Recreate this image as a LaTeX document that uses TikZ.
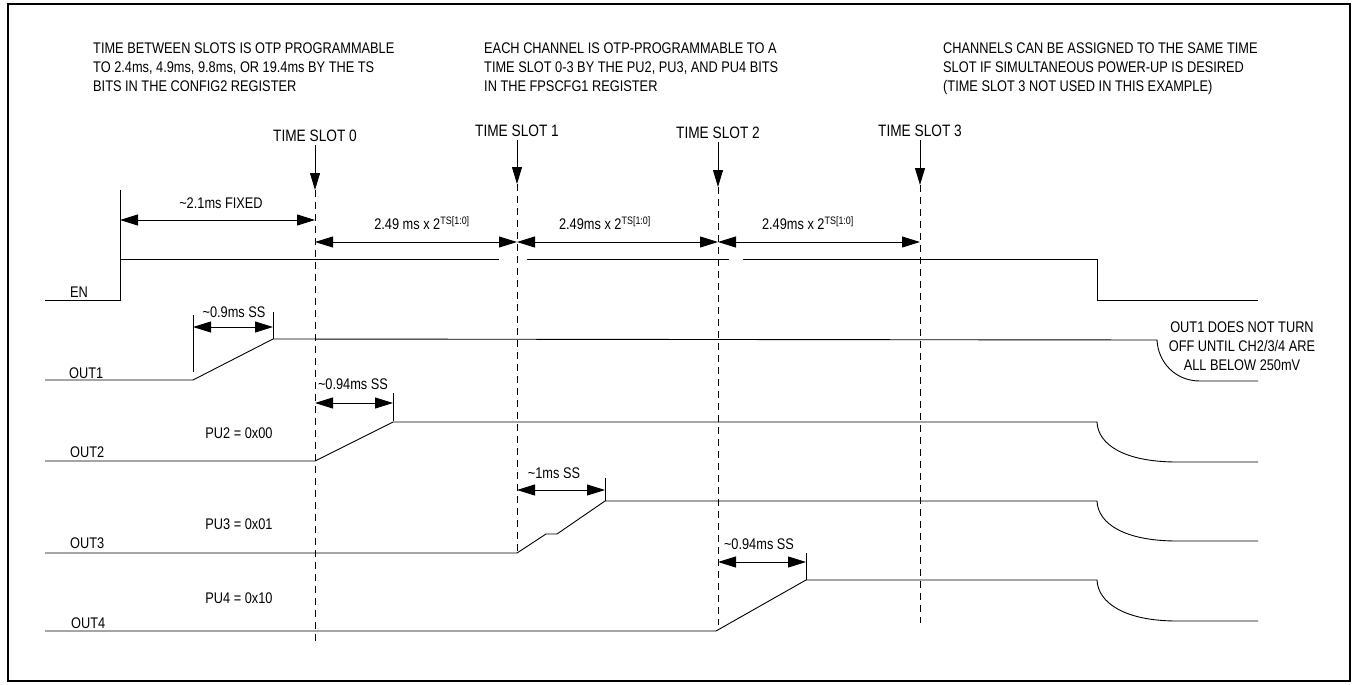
\documentclass[tikz,border=0pt]{standalone}
\usepackage{fontspec}
\setmainfont{Liberation Sans}[FakeStretch=0.83]
\usepackage{tikz}
\usetikzlibrary{arrows.meta, positioning}

\begin{document}
\begin{tikzpicture}[x=1pt, y=-1pt,
  sig/.style={line width=0.9pt},
  slotline/.style={line width=0.9pt, dash pattern=on 7pt off 5pt},
  dim/.style={line width=0.9pt, {Triangle[length=18pt, width=11pt]}-{Triangle[length=18pt, width=11pt]}},
  downarr/.style={line width=0.9pt, -{Triangle[length=17pt, width=10pt]}, shorten <=3pt},
  txt/.style={font=\fontsize{15.4}{19}\selectfont, inner sep=0pt},
  note/.style={txt, align=left, anchor=north west},
  slotlbl/.style={font=\fontsize{16.5}{19}\selectfont, inner sep=0pt}]

  \useasboundingbox (0,0) rectangle (1353,685);
  \draw[line width=1.5pt] (8,4) rectangle (1350,681);

  \node[note] (noteTS) at (93,43) {TIME BETWEEN SLOTS IS OTP PROGRAMMABLE\\TO 2.4ms, 4.9ms, 9.8ms, OR 19.4ms BY THE TS\\BITS IN THE CONFIG2 REGISTER};
  \node[note] (notePU) at (484,43) {EACH CHANNEL IS OTP-PROGRAMMABLE TO A\\TIME SLOT 0-3 BY THE PU2, PU3, AND PU4 BITS\\IN THE FPSCFG1 REGISTER};
  \node[note] (noteSame) at (943,43) {CHANNELS CAN BE ASSIGNED TO THE SAME TIME\\SLOT IF SIMULTANEOUS POWER-UP IS DESIRED\\(TIME SLOT 3 NOT USED IN THIS EXAMPLE)};

  \foreach \i/\x/\ly/\tip/\e in {0/315/136/190/642, 1/517/131/184/553, 2/718/133/187/625, 3/920/131/185/623} {
    \node[slotlbl] (slot\i) at (\x,\ly) {TIME SLOT \i};
    \coordinate (ts\i) at (\x,\tip);
    \draw[downarr] (slot\i.south -| ts\i) -- (ts\i);
    \draw[slotline] (ts\i) -- (\x,\e);
  }

  \draw[sig] (120,190) -- (120,259);
  \draw[dim] (120,220) -- (ts0 |- 0,220);
  \node[txt] (fixed) at (221,203) {\textasciitilde2.1ms FIXED};
  \draw[dim] (ts0 |- 0,242) -- (ts1 |- 0,242);
  \draw[dim] (ts1 |- 0,242) -- (ts2 |- 0,242);
  \draw[dim] (ts2 |- 0,242) -- (ts3 |- 0,242);
  \node[txt] (gap01) at (422,223) {2.49 ms x 2\textsuperscript{TS[1:0]}};
  \node[txt] (gap12) at (605,223) {2.49ms x 2\textsuperscript{TS[1:0]}};
  \node[txt] (gap23) at (808,223) {2.49ms x 2\textsuperscript{TS[1:0]}};

  \draw[sig] (45,300) -- (120,300) -- (120,259) -- (499,259);
  \draw[sig] (527,259) -- (729,259);
  \draw[sig] (743,259) -- (1097,259) -- (1097,300) -- (1258,300);
  \node[txt, anchor=west] (en) at (70,292) {EN};

  \draw[sig] (45,380) -- (193,380) -- (273,339) -- (1157,340) .. controls (1158,362) and (1175,381) .. (1200,381) -- (1258,381);
  \node[txt, anchor=west] (out1) at (69,373) {OUT1};
  \draw[sig] (193,315) -- (193,372);
  \draw[sig] (273,312) -- (273,339);
  \draw[dim] (193,327) -- (273,327);
  \node[txt] (ss1) at (234,312) {\textasciitilde0.9ms SS};
  \node[txt, align=center] (off1) at (1242,346) {OUT1 DOES NOT TURN\\OFF UNTIL CH2/3/4 ARE\\ALL BELOW 250mV};

  \draw[sig] (45,461) -- (315,461) -- (393,422) -- (1097,422) .. controls (1098,445) and (1125,462) .. (1177,462) -- (1258,462);
  \node[txt, anchor=west] (out2) at (70,452) {OUT2};
  \node[txt] (pu2) at (239,433) {PU2 = 0x00};
  \draw[sig] (393,393) -- (393,421);
  \draw[dim] (ts0 |- 0,403) -- (393,403);
  \node[txt] (ss2) at (353,384) {\textasciitilde0.94ms SS};

  \draw[sig] (45,553) -- (517,553) -- (546,534) -- (557,534) -- (605,501) -- (1097,501) .. controls (1098,524) and (1125,541) .. (1177,541) -- (1258,541);
  \node[txt, anchor=west] (out3) at (70,543) {OUT3};
  \node[txt] (pu3) at (239,524) {PU3 = 0x01};
  \draw[sig] (605,478) -- (605,501);
  \draw[dim] (ts1 |- 0,490) -- (605,490);
  \node[txt] (ss3) at (554,473) {\textasciitilde1ms SS};

  \draw[sig] (45,631) -- (716,631) -- (806,580) -- (1097,580) .. controls (1098,603) and (1125,621) .. (1177,621) -- (1258,621);
  \node[txt, anchor=west] (out4) at (71,623) {OUT4};
  \node[txt] (pu4) at (239,598) {PU4 = 0x10};
  \draw[sig] (806,553) -- (806,580);
  \draw[dim] (ts2 |- 0,562) -- (806,562);
  \node[txt] (ss4) at (759,544) {\textasciitilde0.94ms SS};
\end{tikzpicture}
\end{document}
